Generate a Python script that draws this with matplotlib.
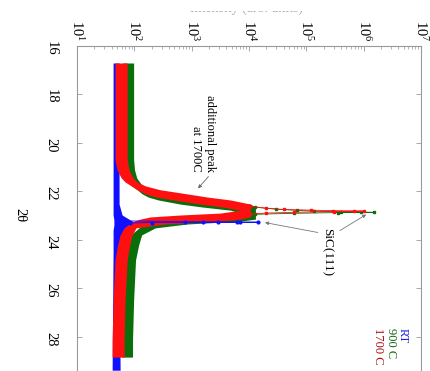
import numpy as np
import matplotlib.pyplot as plt
from matplotlib.transforms import Bbox

plt.rcParams['font.family'] = ['Liberation Serif', 'DejaVu Serif']
plt.rcParams['mathtext.fontset'] = 'stix'

# ---- data: 2theta and the low/high envelope of each noisy scan ----
tt_rt = [16.72, 22.53, 22.98, 23.18, 23.40, 23.60, 23.88, 24.5, 29.37]
lo_rt = [42.6, 42.6, 42.6, 44, 44, 42.6, 42.6, 42.6, 41]
hi_rt = [54.2, 54.2, 61.2, 84.5, 126, 78, 61.2, 54.2, 56.5]
spike_tt_rt = [23.22, 23.25, 23.26, 23.265, 23.27, 23.272, 23.275, 23.29, 23.31]
spike_rt = [56, 773, 1594, 2920, 6270, 7079, 14600, 200, 84]

tt_900 = [16.72, 20.71, 21.13, 21.45, 21.74, 21.94, 22.11, 22.24, 22.36, 22.53,
          22.65, 22.78, 22.90, 22.98, 23.06, 23.15, 23.23, 23.35, 23.51, 23.80,
          24.21, 24.83, 26.48, 28.13, 28.83]
lo_900 = [62.4, 62.4, 65, 70.5, 86.1, 112, 137, 174, 261, 632, 1531, 4732, 7079,
          1413, 516, 282, 205, 143, 121, 86.1, 76.4, 67.6, 62.4, 60, 60]
hi_900 = [97.2, 97.2, 101, 110, 134, 189, 390, 837, 2113, 10580, 12940, 12940,
          12940, 12940, 12940, 12940, 7079, 837, 231, 134, 119, 105, 97.2, 93, 93]
tip_tt_900 = [22.66, 22.74, 22.79, 22.82, 22.85, 22.86, 22.87, 22.88, 22.91, 22.95]
tip_900 = [12940, 30000, 70000, 133600, 396000, 900000, 1.5e6, 350000, 60000, 12940]

tt_1700 = [16.72, 18.24, 20.71, 21.13, 21.45, 21.62, 21.78, 21.94, 22.11, 22.24,
           22.36, 22.53, 22.65, 22.78, 22.90, 22.98, 23.06, 23.15, 23.23, 23.35,
           23.51, 23.80, 24.21, 24.83, 26.48, 28.13, 28.83]
lo_1700 = [46, 46, 46, 50, 59, 69, 88, 112, 155, 240, 476, 1413, 3428, 7079, 3162,
           632, 189, 126, 99, 81, 66, 56.5, 51, 46, 42.6, 41, 41]
hi_1700 = [75, 75, 75, 81, 95, 112, 155, 282, 837, 1875, 4732, 10580, 10580, 10580,
           10580, 10580, 10580, 7079, 3162, 345, 107, 91.6, 83, 75, 69, 66.4, 66.4]
tip_tt_1700 = [22.62, 22.70, 22.75, 22.78, 22.80, 22.81, 22.82, 22.84, 22.87, 22.90, 22.94]
tip_1700 = [10580, 20000, 40000, 118400, 287000, 668000, 1.0e6, 300000, 60000, 20000, 10580]

xticks = [1e1, 1e2, 1e3, 1e4, 1e5, 1e6, 1e7]
yticks = [16, 18, 20, 22, 24, 26, 28]

c_rt, c_900, c_1700 = '#1010ff', '#0a6e0a', '#ff1010'

W, H = 430, 371
fig = plt.figure(figsize=(W / 100, H / 100), dpi=100)
ax = fig.add_axes([77 / W, 1 - 385.5 / H, (421 - 77) / W, (385.5 - 45.5) / H])
ax.set_xscale('log')
ax.set_xlim(10, 1e7)
ax.set_ylim(30, 16)

# noisy bands, then thin peak lines with markers
ax.fill_betweenx(tt_rt, lo_rt, hi_rt, color=c_rt, lw=0, zorder=2)
ax.fill_betweenx(tt_900, lo_900, hi_900, color=c_900, lw=0, zorder=3)
ax.plot(tip_900, tip_tt_900, color=c_900, lw=0.6, marker='s', ms=2, zorder=3)
ax.fill_betweenx(tt_1700, lo_1700, hi_1700, color=c_1700, lw=0, zorder=4)
ax.plot(tip_1700, tip_tt_1700, color=c_1700, lw=0.6, marker='s', ms=2, zorder=4)
ax.plot(spike_rt, spike_tt_rt, color=c_rt, lw=0.6, marker='o', ms=2, zorder=5)

# axes styling
ax.xaxis.tick_top()
ax.set_xticks(xticks)
ax.set_yticks(yticks)
for s in ax.spines.values():
    s.set_color('#999999')
    s.set_linewidth(0.8)
ax.tick_params(which='both', direction='in', top=True, bottom=True, left=True,
               right=True, labeltop=True, labelbottom=False, colors='#999999',
               labelcolor='black')
ax.tick_params(which='major', length=3.5, width=0.6)
ax.tick_params(which='minor', length=2, width=0.5)
ax.tick_params(axis='x', labelrotation=-90, labelsize=10.5, pad=3)
ax.tick_params(axis='y', labelrotation=-90, labelsize=10.5, pad=14)

fig.text(20 / W, 1 - 215 / H, '2θ', rotation=-90, ha='center', va='center', fontsize=10.5)

# cut-off intensity label at the top edge
t = fig.text(247 / W, 1 - 12 / H, 'Intensity (arb. units)', ha='center', va='baseline',
             fontsize=10, color='#aaaaaa')
t.set_clip_box(Bbox.from_extents(0, H - 16, W, H - 11))
t.set_clip_on(True)

# annotations
ax.text(1600, 21.21, 'additional peak\nat 1700C', rotation=-90, ha='center',
        va='bottom', multialignment='right', fontsize=9, zorder=6)
ax.annotate('', xy=(1200, 21.97), xytext=(2110, 21.31),
            arrowprops=dict(arrowstyle='-|>', color='#666666', lw=0.6, mutation_scale=5))

ax.text(2.25e5, 23.51, 'SiC(111)', rotation=-90, ha='center', va='top',
        fontsize=9.5, zorder=6)
ax.annotate('', xy=(17000, 23.27), xytext=(1.77e5, 23.72),
            arrowprops=dict(arrowstyle='-|>', color='#777777', lw=0.6, mutation_scale=5))
ax.annotate('', xy=(1.22e6, 22.90), xytext=(3.5e5, 23.68),
            arrowprops=dict(arrowstyle='-|>', color='#777777', lw=0.6, mutation_scale=5))

# legend labels
ax.text(4.8e6, 27.63, 'RT', color='#2020dd', rotation=-90, ha='center', va='top', fontsize=9)
ax.text(2.95e6, 27.63, '900 C', color='#106610', rotation=-90, ha='center', va='top', fontsize=9)
ax.text(1.8e6, 27.63, '1700 C', color='#aa1010', rotation=-90, ha='center', va='top', fontsize=9)

fig.savefig('out.png', dpi=100)
